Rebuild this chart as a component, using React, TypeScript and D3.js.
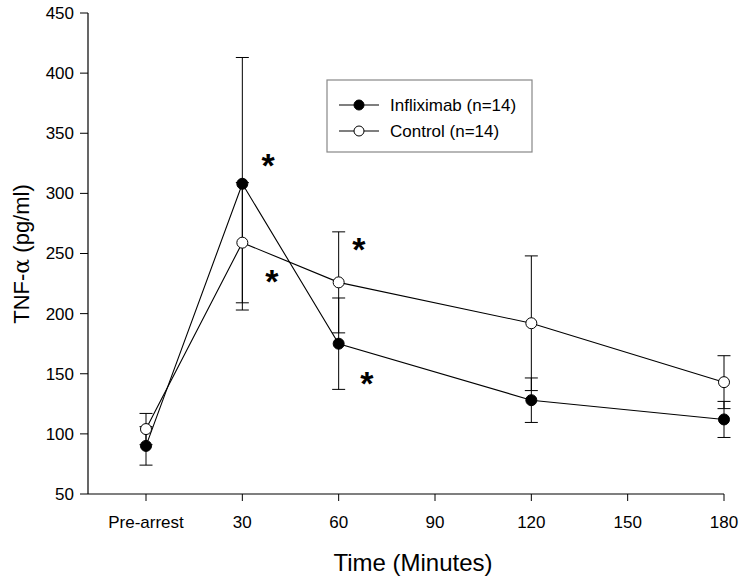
import React from "react";
import * as d3 from "d3";

const timeValues = [0, 30, 60, 120, 180];
const xTickValues = [0, 30, 60, 90, 120, 150, 180];
const xTickLabels = ["Pre-arrest", "30", "60", "90", "120", "150", "180"];
const yTickValues = [50, 100, 150, 200, 250, 300, 350, 400, 450];

const inflixMean = [90, 308, 175, 128, 112];
const inflixErr = [16, 105, 38, 18.5, 15];
const controlMean = [104, 259, 226, 192, 143];
const controlErr = [13, 50, 42, 56, 22];

const seriesNames = ["Infliximab (n=14)", "Control (n=14)"];

// significance asterisks: [time position, value]
const starTimes = [38, 39.2, 66.3, 68.8];
const starValues = [325, 229, 255, 144];

const W = 742;
const H = 581;
const FONT = "Arial, 'Liberation Sans', Helvetica, sans-serif";

export default function App() {
  const x = d3.scaleLinear().domain([0, 180]).range([146, 724]);
  const y = d3.scaleLinear().domain([50, 450]).range([494, 13]);
  const line = d3
    .line<[number, number]>()
    .x((d) => x(d[0]))
    .y((d) => y(d[1]));

  const series = [
    { mean: inflixMean, err: inflixErr, fill: "#000" },
    { mean: controlMean, err: controlErr, fill: "#fff" },
  ];
  const cap = 6.5;

  return (
    <svg
      width={W}
      height={H}
      style={{ position: "absolute", left: 0, top: 0, background: "#fff" }}
      fontFamily={FONT}
    >
      <rect width={W} height={H} fill="#fff" />
      {/* axes */}
      <line x1={88} x2={88} y1={y(450)} y2={y(50)} stroke="#000" strokeWidth={1.2} />
      <line x1={88} x2={x(180)} y1={y(50)} y2={y(50)} stroke="#000" strokeWidth={1.2} />
      {yTickValues.map((v) => (
        <g key={"y" + v}>
          <line x1={80} x2={88} y1={y(v)} y2={y(v)} stroke="#000" strokeWidth={1} />
          <text x={74} y={y(v)} dy="0.35em" textAnchor="end" fontSize={17} fill="#000">
            {v}
          </text>
        </g>
      ))}
      {xTickValues.map((v, i) => (
        <g key={"x" + v}>
          <line x1={x(v)} x2={x(v)} y1={y(50)} y2={y(50) + 7} stroke="#000" strokeWidth={1} />
          <text x={x(v)} y={528} textAnchor="middle" fontSize={17} fill="#000">
            {xTickLabels[i]}
          </text>
        </g>
      ))}
      <text x={413} y={571} textAnchor="middle" fontSize={24} fill="#000">
        Time (Minutes)
      </text>
      <text
        transform={`translate(29,254) rotate(-90)`}
        textAnchor="middle"
        fontSize={22}
        fill="#000"
      >
        TNF-
        <tspan fontFamily="'DejaVu Serif', serif">α</tspan> (pg/ml)
      </text>

      {/* error bars */}
      {series.map((s, si) =>
        timeValues.map((t, i) => {
          const cx = x(t);
          const lo = y(s.mean[i] - s.err[i]);
          const hi = y(s.mean[i] + s.err[i]);
          return (
            <g key={`e${si}-${i}`} stroke="#000" strokeWidth={1}>
              <line x1={cx} x2={cx} y1={lo} y2={hi} />
              <line x1={cx - cap} x2={cx + cap} y1={lo} y2={lo} />
              <line x1={cx - cap} x2={cx + cap} y1={hi} y2={hi} />
            </g>
          );
        })
      )}

      {/* lines */}
      {series.map((s, si) => (
        <path
          key={"l" + si}
          d={line(timeValues.map((t, i) => [t, s.mean[i]]) as [number, number][]) || ""}
          fill="none"
          stroke="#000"
          strokeWidth={1.1}
        />
      ))}
      {/* markers */}
      {series.map((s, si) =>
        timeValues.map((t, i) => (
          <circle
            key={`m${si}-${i}`}
            cx={x(t)}
            cy={y(s.mean[i])}
            r={5.5}
            fill={s.fill}
            stroke="#000"
            strokeWidth={1}
          />
        ))
      )}

      {/* asterisks */}
      {starTimes.map((t, i) => (
        <text
          key={"s" + i}
          x={x(t)}
          y={y(starValues[i]) + 14}
          textAnchor="middle"
          fontSize={34}
          fontWeight="bold"
          fill="#000"
        >
          *
        </text>
      ))}

      {/* legend */}
      <rect x={327} y={80} width={205} height={72} fill="#fff" stroke="#888" strokeWidth={1.2} />
      {seriesNames.map((name, i) => {
        const ly = 105 + i * 26;
        return (
          <g key={"lg" + i}>
            <line x1={339} x2={379} y1={ly} y2={ly} stroke="#000" strokeWidth={1.1} />
            <circle cx={359} cy={ly} r={5} fill={series[i].fill} stroke="#000" strokeWidth={1} />
            <text x={390} y={ly} dy="0.35em" fontSize={17} fill="#000">
              {name}
            </text>
          </g>
        );
      })}
    </svg>
  );
}
